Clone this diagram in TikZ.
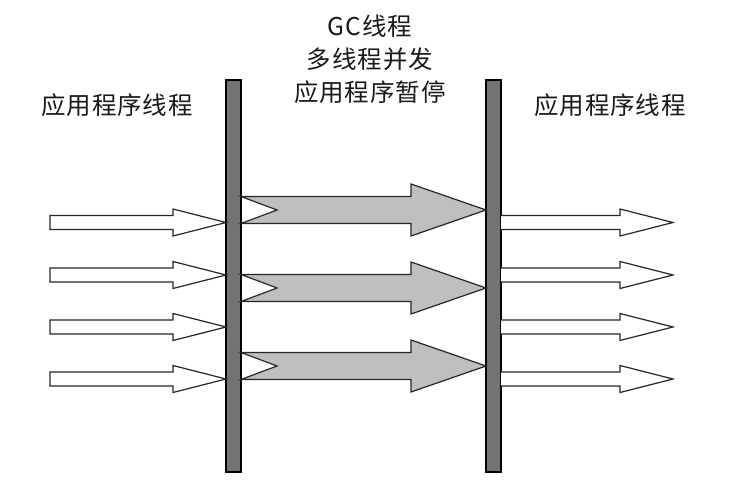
\documentclass[tikz,border=0pt]{standalone}
\usepackage{fontspec}
\newfontfamily\cjk[LetterSpace=4]{Noto Sans CJK SC}
\begin{document}
\begin{tikzpicture}[x=1pt,y=-1pt,
  barstyle/.style={draw=black,fill=black!55,line width=1.1pt},
  grayarrow/.style={draw=black!85,fill=black!25,line width=1.2pt,line join=miter},
  whitearrow/.style={draw=black!85,fill=white,line width=1.2pt,line join=miter},
  lbl/.style={font=\cjk\fontsize{24.5}{33}\selectfont,text=black!90,inner sep=0pt}]
\useasboundingbox (0,0) rectangle (733,489);
% bars
\draw[barstyle] (226,80) rectangle (241,472);
\draw[barstyle] (486,80) rectangle (501,472);
% gray arrows
\foreach \c in {210,288,366}{
  \draw[grayarrow] (241,\c-13.5) -- (411,\c-13.5) -- (411,\c-26) -- (486,\c)
     -- (411,\c+26) -- (411,\c+13.5) -- (241,\c+13.5) -- (277,\c) -- cycle;
}
% white arrows left and right
\foreach \c in {222.5,275,327,379}{
  \draw[whitearrow] (50,\c-7) -- (173,\c-7) -- (173,\c-13.5) -- (226,\c)
     -- (173,\c+13.5) -- (173,\c+7) -- (50,\c+7) -- cycle;
  \draw[whitearrow] (501,\c-7) -- (620,\c-7) -- (620,\c-13.5) -- (673,\c)
     -- (620,\c+13.5) -- (620,\c+7) -- (501,\c+7);
}
% labels
\node[lbl] (l) at (117,105) {应用程序线程};
\node[lbl] (r) at (610,105) {应用程序线程};
\node[lbl,align=center] (m) at (370,59) {GC线程\\多线程并发\\应用程序暂停};
\end{tikzpicture}
\end{document}
